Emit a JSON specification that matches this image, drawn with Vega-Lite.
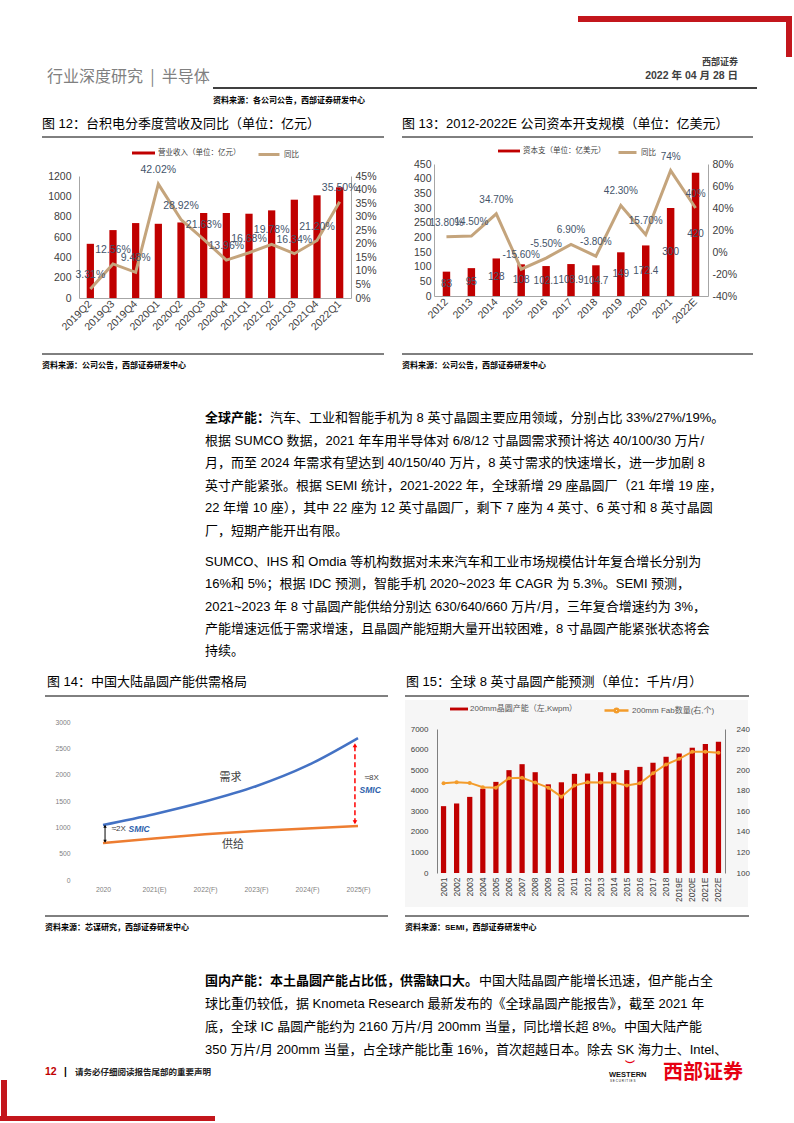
{
"$schema":"https://vega.github.io/schema/vega-lite/v6.json",
"width":794,"height":1123,"autosize":"none","padding":0,"background":"#ffffff",
"config":{"view":{"stroke":null},"font":"Liberation Sans, Noto Sans CJK SC"},
"data":{"values":[{}]},
"datasets":{
"c12":[
{"q":"2019Q2","rev":533,"yoy":0.0331},{"q":"2019Q3","rev":668,"yoy":0.1256},{"q":"2019Q4","rev":737,"yoy":0.0948},
{"q":"2020Q1","rev":730,"yoy":0.4202},{"q":"2020Q2","rev":743,"yoy":0.2892},{"q":"2020Q3","rev":836,"yoy":0.2163},
{"q":"2020Q4","rev":836,"yoy":0.1396},{"q":"2021Q1","rev":829,"yoy":0.1668},{"q":"2021Q2","rev":862,"yoy":0.1978},
{"q":"2021Q3","rev":967,"yoy":0.1634},{"q":"2021Q4","rev":1010,"yoy":0.2120},{"q":"2022Q1","rev":1089,"yoy":0.3550}],
"c13":[
{"yr":"2012","capex":83,"yoy":0.138,"lbl":"13.80%"},{"yr":"2013","capex":95,"yoy":0.145,"lbl":"14.50%"},
{"yr":"2014","capex":128,"yoy":0.347,"lbl":"34.70%"},{"yr":"2015","capex":108,"yoy":-0.156,"lbl":"-15.60%"},
{"yr":"2016","capex":102.1,"yoy":-0.055,"lbl":"-5.50%"},{"yr":"2017","capex":108.9,"yoy":0.069,"lbl":"6.90%"},
{"yr":"2018","capex":104.7,"yoy":-0.038,"lbl":"-3.80%"},{"yr":"2019","capex":149,"yoy":0.423,"lbl":"42.30%"},
{"yr":"2020","capex":172.4,"yoy":0.157,"lbl":"15.70%"},{"yr":"2021","capex":300,"yoy":0.74,"lbl":"74%"},
{"yr":"2022E","capex":420,"yoy":0.40,"lbl":"40%"}],
"c14":[
{"year":2020,"s":"需求","v":1045},{"year":2021,"s":"需求","v":1250},{"year":2022,"s":"需求","v":1490},
{"year":2023,"s":"需求","v":1780},{"year":2024,"s":"需求","v":2170},{"year":2025,"s":"需求","v":2695},
{"year":2020,"s":"供给","v":703},{"year":2021,"s":"供给","v":790},{"year":2022,"s":"供给","v":868},
{"year":2023,"s":"供给","v":930},{"year":2024,"s":"供给","v":980},{"year":2025,"s":"供给","v":1025}],
"c15":[
{"yr":"2001","cap":3250,"fab":187.3},{"yr":"2002","cap":3380,"fab":188.2},{"yr":"2003","cap":3700,"fab":187.6},
{"yr":"2004","cap":4100,"fab":183.4},{"yr":"2005","cap":4430,"fab":183.0},{"yr":"2006","cap":5000,"fab":192.2},
{"yr":"2007","cap":5290,"fab":192.5},{"yr":"2008","cap":4900,"fab":187.9},{"yr":"2009","cap":4310,"fab":183.0},
{"yr":"2010","cap":4410,"fab":174.2},{"yr":"2011","cap":4820,"fab":185.0},{"yr":"2012","cap":4835,"fab":188.2},
{"yr":"2013","cap":4900,"fab":187.9},{"yr":"2014","cap":4870,"fab":187.9},{"yr":"2015","cap":5000,"fab":185.0},
{"yr":"2016","cap":5160,"fab":187.3},{"yr":"2017","cap":5360,"fab":197.0},{"yr":"2018","cap":5650,"fab":205.5},
{"yr":"2019E","cap":5810,"fab":211.0},{"yr":"2020E","cap":6090,"fab":217.9},{"yr":"2021E","cap":6270,"fab":217.9},
{"yr":"2022E","cap":6380,"fab":216.9}],
"p1":[
{"i":0,"t":"汽车、工业和智能手机为 8 英寸晶圆主要应用领域，分别占比 33%/27%/19%。"},
{"i":1,"t":"根据 SUMCO 数据，2021 年车用半导体对 6/8/12 寸晶圆需求预计将达 40/100/30 万片/"},
{"i":2,"t":"月，而至 2024 年需求有望达到 40/150/40 万片，8 英寸需求的快速增长，进一步加剧 8"},
{"i":3,"t":"英寸产能紧张。根据 SEMI 统计，2021-2022 年，全球新增 29 座晶圆厂（21 年增 19 座，"},
{"i":4,"t":"22 年增 10 座），其中 22 座为 12 英寸晶圆厂，剩下 7 座为 4 英寸、6 英寸和 8 英寸晶圆"},
{"i":5,"t":"厂，短期产能开出有限。"}],
"p2":[
{"i":0,"t":"SUMCO、IHS 和 Omdia 等机构数据对未来汽车和工业市场规模估计年复合增长分别为"},
{"i":1,"t":"16%和 5%；根据 IDC 预测，智能手机 2020~2023 年 CAGR 为 5.3%。SEMI 预测，"},
{"i":2,"t":"2021~2023 年 8 寸晶圆产能供给分别达 630/640/660 万片/月，三年复合增速约为 3%，"},
{"i":3,"t":"产能增速远低于需求增速，且晶圆产能短期大量开出较困难，8 寸晶圆产能紧张状态将会"},
{"i":4,"t":"持续。"}],
"p3":[
{"i":0,"t":"中国大陆晶圆产能增长迅速，但产能占全"},
{"i":1,"t":"球比重仍较低，据 Knometa Research 最新发布的《全球晶圆产能报告》，截至 2021 年"},
{"i":2,"t":"底，全球 IC 晶圆产能约为 2160 万片/月 200mm 当量，同比增长超 8%。中国大陆产能"},
{"i":3,"t":"350 万片/月 200mm 当量，占全球产能比重 16%，首次超越日本。除去 SK 海力士、Intel、"}]
},
"resolve":{"scale":{"x":"independent","y":"independent","fill":"independent","stroke":"independent"}},
"layer":[
{"mark":{"type":"rect","color":"#f6f6f6"},"encoding":{"x":{"value":405},"x2":{"value":748},"y":{"value":700},"y2":{"value":907}}},
{"mark":{"type":"rect","color":"#C3161C"},"encoding":{"x":{"value":578},"x2":{"value":792},"y":{"value":16},"y2":{"value":22}}},
{"mark":{"type":"rect","color":"#C3161C"},"encoding":{"x":{"value":786},"x2":{"value":792},"y":{"value":16},"y2":{"value":57}}},
{"mark":{"type":"rect","color":"#C3161C"},"encoding":{"x":{"value":1},"x2":{"value":7},"y":{"value":1080},"y2":{"value":1121}}},
{"mark":{"type":"rect","color":"#C3161C"},"encoding":{"x":{"value":0},"x2":{"value":215},"y":{"value":1116},"y2":{"value":1121}}},
{"mark":{"type":"text","text":"行业深度研究\u00a0\u00a0|\u00a0\u00a0半导体","align":"left","baseline":"middle","fontSize":16,"color":"#808080","font":"Noto Sans CJK SC"},"encoding":{"x":{"value":47},"y":{"value":77}}},
{"mark":{"type":"text","text":"西部证券","align":"right","baseline":"middle","fontSize":9,"fontWeight":"bold","color":"#404040"},"encoding":{"x":{"value":738},"y":{"value":62}}},
{"mark":{"type":"text","text":"2022 年 04 月 28 日","align":"right","baseline":"middle","fontSize":10.5,"fontWeight":"bold","color":"#404040"},"encoding":{"x":{"value":738},"y":{"value":76}}},
{"mark":{"type":"rule","color":"#000000","strokeWidth":1.5},"encoding":{"x":{"value":213},"x2":{"value":757},"y":{"value":88}}},
{"mark":{"type":"text","text":"资料来源：各公司公告，西部证券研发中心","align":"left","baseline":"middle","fontSize":8,"fontWeight":"bold","color":"#000000"},"encoding":{"x":{"value":213},"y":{"value":101}}},
{"mark":{"type":"text","text":"图 12：台积电分季度营收及同比（单位：亿元）","align":"left","baseline":"middle","fontSize":13,"color":"#000000"},"encoding":{"x":{"value":42},"y":{"value":124}}},
{"mark":{"type":"text","text":"图 13：2012-2022E 公司资本开支规模（单位：亿美元）","align":"left","baseline":"middle","fontSize":13,"color":"#000000"},"encoding":{"x":{"value":402},"y":{"value":124}}},
{"mark":{"type":"rule","color":"#000000","strokeWidth":1},"encoding":{"x":{"value":42},"x2":{"value":384},"y":{"value":137}}},
{"mark":{"type":"rule","color":"#000000","strokeWidth":1},"encoding":{"x":{"value":402},"x2":{"value":753},"y":{"value":137}}},
{"mark":{"type":"rule","color":"#000000","strokeWidth":1},"encoding":{"x":{"value":42},"x2":{"value":384},"y":{"value":354}}},
{"mark":{"type":"rule","color":"#000000","strokeWidth":1},"encoding":{"x":{"value":402},"x2":{"value":753},"y":{"value":354}}},
{"mark":{"type":"text","text":"资料来源：公司公告，西部证券研发中心","align":"left","baseline":"middle","fontSize":8,"fontWeight":"bold","color":"#000000"},"encoding":{"x":{"value":42},"y":{"value":366}}},
{"mark":{"type":"text","text":"资料来源：公司公告，西部证券研发中心","align":"left","baseline":"middle","fontSize":8,"fontWeight":"bold","color":"#000000"},"encoding":{"x":{"value":402},"y":{"value":366}}},
{"mark":{"type":"text","text":"图 14：中国大陆晶圆产能供需格局","align":"left","baseline":"middle","fontSize":13,"color":"#000000"},"encoding":{"x":{"value":47},"y":{"value":682}}},
{"mark":{"type":"text","text":"图 15：全球 8 英寸晶圆产能预测（单位：千片/月）","align":"left","baseline":"middle","fontSize":13,"color":"#000000"},"encoding":{"x":{"value":406},"y":{"value":682}}},
{"mark":{"type":"rule","color":"#000000","strokeWidth":1},"encoding":{"x":{"value":45},"x2":{"value":388},"y":{"value":696}}},
{"mark":{"type":"rule","color":"#000000","strokeWidth":1},"encoding":{"x":{"value":405},"x2":{"value":749},"y":{"value":696}}},
{"mark":{"type":"rule","color":"#000000","strokeWidth":1},"encoding":{"x":{"value":45},"x2":{"value":388},"y":{"value":916}}},
{"mark":{"type":"rule","color":"#000000","strokeWidth":1},"encoding":{"x":{"value":405},"x2":{"value":749},"y":{"value":916}}},
{"mark":{"type":"text","text":"资料来源：芯谋研究，西部证券研发中心","align":"left","baseline":"middle","fontSize":8,"fontWeight":"bold","color":"#000000"},"encoding":{"x":{"value":45},"y":{"value":928}}},
{"mark":{"type":"text","text":"资料来源：SEMI，西部证券研发中心","align":"left","baseline":"middle","fontSize":8,"fontWeight":"bold","color":"#000000"},"encoding":{"x":{"value":405},"y":{"value":928}}},
{"mark":{"type":"text","text":"12","align":"left","baseline":"middle","fontSize":10.5,"fontWeight":"bold","color":"#C00000"},"encoding":{"x":{"value":45},"y":{"value":1072}}},
{"mark":{"type":"text","text":"|","align":"left","baseline":"middle","fontSize":10,"fontWeight":"bold","color":"#000000"},"encoding":{"x":{"value":64},"y":{"value":1072}}},
{"mark":{"type":"text","text":"请务必仔细阅读报告尾部的重要声明","align":"left","baseline":"middle","fontSize":8.5,"fontWeight":"bold","color":"#222222"},"encoding":{"x":{"value":75},"y":{"value":1072}}},
{"mark":{"type":"text","text":"西部证券","align":"left","baseline":"middle","fontSize":20,"fontWeight":"bold","color":"#E60012","font":"Noto Sans CJK SC"},"encoding":{"x":{"value":663},"y":{"value":1073}}},
{"mark":{"type":"text","text":"WESTERN","align":"left","baseline":"middle","fontSize":7.5,"fontWeight":"bold","color":"#111111"},"encoding":{"x":{"value":609},"y":{"value":1075}}},
{"mark":{"type":"text","text":"S E C U R I T I E S","align":"left","baseline":"middle","fontSize":3,"color":"#111111"},"encoding":{"x":{"value":610},"y":{"value":1081}}},
{"mark":{"type":"text","text":"︶","align":"center","baseline":"middle","fontSize":10,"fontWeight":"bold","color":"#E60012"},"encoding":{"x":{"value":630},"y":{"value":1066}}},

{"data":{"name":"c12"},
 "encoding":{"x":{"field":"q","type":"nominal","sort":null,"scale":{"range":[79,351],"paddingInner":0.68,"paddingOuter":0.34},
   "axis":{"orient":"bottom","offset":-825,"title":null,"labelAngle":-45,"labelAlign":"right","labelBaseline":"middle","labelFontSize":10.5,"labelColor":"#404040","domainColor":"#a6a6a6","ticks":false,"labelPadding":4,"grid":false,"labelOverlap":false}}},
 "layer":[
  {"mark":{"type":"bar"},"encoding":{
    "y":{"field":"rev","type":"quantitative","scale":{"domain":[0,1200],"range":[298,176]},"axis":{"orient":"left","offset":-79,"title":null,"values":[0,200,400,600,800,1000,1200],"format":"d","labelFontSize":10.5,"labelColor":"#404040","domainColor":"#a6a6a6","ticks":false,"labelPadding":8,"grid":false}},
    "fill":{"datum":"营业收入（单位：亿元）","type":"nominal","scale":{"range":["#C00000"]},"legend":{"orient":"none","legendX":132,"legendY":141.5,"title":null,"symbolType":"M-1,-0.13H1V0.13H-1Z","symbolSize":529,"symbolStrokeWidth":0,"labelFontSize":7.5,"labelColor":"#404040","labelOffset":3,"padding":0}}}},
  {"mark":{"type":"line","strokeWidth":3},"encoding":{
    "y":{"field":"yoy","type":"quantitative","scale":{"domain":[0,0.45],"range":[298,176]},"axis":{"orient":"right","offset":-443,"title":null,"values":[0,0.05,0.1,0.15,0.2,0.25,0.3,0.35,0.4,0.45],"format":".0%","labelFontSize":10.5,"labelColor":"#404040","domainColor":"#a6a6a6","ticks":false,"labelPadding":4,"grid":false}},
    "stroke":{"datum":"同比","type":"nominal","scale":{"range":["#C4A47C"]},"legend":{"orient":"none","legendX":257,"legendY":142.5,"title":null,"symbolType":"stroke","symbolSize":441,"symbolStrokeWidth":3,"labelFontSize":7.5,"labelColor":"#404040","labelOffset":3,"padding":0}}}},
  {"mark":{"type":"text","dy":-14,"fontSize":10.5,"color":"#44546A"},"encoding":{
    "y":{"field":"yoy","type":"quantitative","scale":{"domain":[0,0.45],"range":[298,176]},"axis":null},
    "text":{"field":"yoy","type":"quantitative","format":".2%"}}}
 ],
 "resolve":{"scale":{"y":"independent"}}},

{"data":{"name":"c13"},
 "encoding":{"x":{"field":"yr","type":"nominal","sort":null,"scale":{"range":[434,708],"paddingInner":0.7,"paddingOuter":0.35},
   "axis":{"orient":"bottom","offset":-827,"title":null,"labelAngle":-45,"labelAlign":"right","labelBaseline":"middle","labelFontSize":10.5,"labelColor":"#404040","domainColor":"#a6a6a6","ticks":false,"labelPadding":4,"grid":false,"labelOverlap":false}}},
 "layer":[
  {"mark":{"type":"bar"},"encoding":{
    "y":{"field":"capex","type":"quantitative","scale":{"domain":[0,450],"range":[296,164]},"axis":{"orient":"left","offset":-434,"title":null,"values":[0,50,100,150,200,250,300,350,400,450],"labelFontSize":10.5,"labelColor":"#404040","domainColor":"#a6a6a6","ticks":false,"labelPadding":3,"grid":false}},
    "fill":{"datum":"资本支（单位：亿美元）","type":"nominal","scale":{"range":["#C00000"]},"legend":{"orient":"none","legendX":498,"legendY":140,"title":null,"symbolType":"M-1,-0.13H1V0.13H-1Z","symbolSize":484,"symbolStrokeWidth":0,"labelFontSize":7.5,"labelColor":"#404040","labelOffset":3,"padding":0}}}},
  {"mark":{"type":"text","baseline":"middle","fontSize":10,"color":"#44546A"},"encoding":{
    "y":{"field":"capex","type":"quantitative","scale":{"domain":[0,900],"range":[296,164]},"axis":null},
    "text":{"field":"capex","type":"nominal"}}},
  {"mark":{"type":"line","strokeWidth":3},"encoding":{
    "y":{"field":"yoy","type":"quantitative","scale":{"domain":[-0.4,0.8],"range":[296,164]},"axis":{"orient":"right","offset":-86,"title":null,"values":[-0.4,-0.2,0,0.2,0.4,0.6,0.8],"labelExpr":"(datum.value < 0 ? '-' : '') + abs(round(datum.value*100)) + '%'","labelFontSize":10.5,"labelColor":"#404040","domainColor":"#a6a6a6","ticks":false,"labelPadding":4,"grid":false}},
    "stroke":{"datum":"同比","type":"nominal","scale":{"range":["#C4A47C"]},"legend":{"orient":"none","legendX":617,"legendY":142,"title":null,"symbolType":"stroke","symbolSize":324,"symbolStrokeWidth":3,"labelFontSize":7.5,"labelColor":"#404040","labelOffset":3,"padding":0}}}},
  {"mark":{"type":"text","dy":-14,"fontSize":10,"color":"#44546A"},"encoding":{
    "y":{"field":"yoy","type":"quantitative","scale":{"domain":[-0.4,0.8],"range":[296,164]},"axis":null},
    "text":{"field":"lbl","type":"nominal"}}}
 ],
 "resolve":{"scale":{"y":"independent"}}},

{"layer":[
  {"data":{"name":"c14"},"mark":{"type":"line","interpolate":"monotone","strokeWidth":2.5},"encoding":{
    "x":{"field":"year","type":"quantitative","scale":{"domain":[2020,2025],"range":[103,358]},"axis":{"orient":"bottom","offset":-243,"title":null,"values":[2020,2021,2022,2023,2024,2025],"labelExpr":"datum.value == 2020 ? '2020' : datum.value == 2021 ? '2021(E)' : datum.value + '(F)'","labelFontSize":6.8,"labelColor":"#7f7f7f","domain":false,"ticks":false,"labelPadding":6,"labelFlush":false,"grid":false}},
    "y":{"field":"v","type":"quantitative","scale":{"domain":[0,3000],"range":[880,722]},"axis":{"orient":"left","offset":-80,"title":null,"values":[0,500,1000,1500,2000,2500,3000],"format":"d","labelFontSize":6.8,"labelColor":"#7f7f7f","domain":false,"ticks":false,"labelPadding":10,"grid":false}},
    "stroke":{"field":"s","type":"nominal","scale":{"domain":["需求","供给"],"range":["#4472C4","#ED7D31"]},"legend":null}}},
  {"mark":{"type":"rule","color":"#000000","strokeWidth":1},"encoding":{
    "x":{"datum":2020.04,"type":"quantitative","scale":{"domain":[2020,2025],"range":[103,358]},"axis":null},
    "y":{"datum":1030,"type":"quantitative","scale":{"domain":[0,3000],"range":[880,722]},"axis":null},
    "y2":{"datum":725}}},
  {"mark":{"type":"point","shape":"triangle-up","filled":true,"size":12,"color":"#000000","opacity":1},"encoding":{
    "x":{"datum":2020.04,"type":"quantitative","scale":{"domain":[2020,2025],"range":[103,358]},"axis":null},
    "y":{"datum":1020,"type":"quantitative","scale":{"domain":[0,3000],"range":[880,722]},"axis":null}}},
  {"mark":{"type":"point","shape":"triangle-down","filled":true,"size":12,"color":"#000000","opacity":1},"encoding":{
    "x":{"datum":2020.04,"type":"quantitative","scale":{"domain":[2020,2025],"range":[103,358]},"axis":null},
    "y":{"datum":735,"type":"quantitative","scale":{"domain":[0,3000],"range":[880,722]},"axis":null}}},
  {"mark":{"type":"rule","color":"#FF0000","strokeWidth":1.5,"strokeDash":[5,3]},"encoding":{
    "x":{"datum":2024.94,"type":"quantitative","scale":{"domain":[2020,2025],"range":[103,358]},"axis":null},
    "y":{"datum":2540,"type":"quantitative","scale":{"domain":[0,3000],"range":[880,722]},"axis":null},
    "y2":{"datum":1110}}},
  {"mark":{"type":"point","shape":"triangle-up","filled":true,"size":22,"color":"#FF0000","opacity":1},"encoding":{
    "x":{"datum":2024.94,"type":"quantitative","scale":{"domain":[2020,2025],"range":[103,358]},"axis":null},
    "y":{"datum":2560,"type":"quantitative","scale":{"domain":[0,3000],"range":[880,722]},"axis":null}}},
  {"mark":{"type":"point","shape":"triangle-down","filled":true,"size":22,"color":"#FF0000","opacity":1},"encoding":{
    "x":{"datum":2024.94,"type":"quantitative","scale":{"domain":[2020,2025],"range":[103,358]},"axis":null},
    "y":{"datum":1095,"type":"quantitative","scale":{"domain":[0,3000],"range":[880,722]},"axis":null}}},
  {"mark":{"type":"text","text":"需求","fontSize":11,"color":"#404040","baseline":"middle"},"encoding":{
    "x":{"datum":2022.5,"type":"quantitative","scale":{"domain":[2020,2025],"range":[103,358]},"axis":null},
    "y":{"datum":1937,"type":"quantitative","scale":{"domain":[0,3000],"range":[880,722]},"axis":null}}},
  {"mark":{"type":"text","text":"供给","fontSize":11,"color":"#404040","baseline":"middle"},"encoding":{
    "x":{"datum":2022.55,"type":"quantitative","scale":{"domain":[2020,2025],"range":[103,358]},"axis":null},
    "y":{"datum":660,"type":"quantitative","scale":{"domain":[0,3000],"range":[880,722]},"axis":null}}},
  {"mark":{"type":"text","text":"≈2X","fontSize":8,"color":"#404040","align":"left","baseline":"middle"},"encoding":{
    "x":{"datum":2020.17,"type":"quantitative","scale":{"domain":[2020,2025],"range":[103,358]},"axis":null},
    "y":{"datum":968,"type":"quantitative","scale":{"domain":[0,3000],"range":[880,722]},"axis":null}}},
  {"mark":{"type":"text","text":"SMIC","fontSize":8.5,"fontWeight":"bold","fontStyle":"italic","color":"#2E5FAC","align":"left","baseline":"middle"},"encoding":{
    "x":{"datum":2020.5,"type":"quantitative","scale":{"domain":[2020,2025],"range":[103,358]},"axis":null},
    "y":{"datum":968,"type":"quantitative","scale":{"domain":[0,3000],"range":[880,722]},"axis":null}}},
  {"mark":{"type":"text","text":"≈8X","fontSize":8,"color":"#404040","align":"left","baseline":"middle"},"encoding":{
    "x":{"datum":2025.13,"type":"quantitative","scale":{"domain":[2020,2025],"range":[103,358]},"axis":null},
    "y":{"datum":1937,"type":"quantitative","scale":{"domain":[0,3000],"range":[880,722]},"axis":null}}},
  {"mark":{"type":"text","text":"SMIC","fontSize":8.5,"fontWeight":"bold","fontStyle":"italic","color":"#2E5FAC","align":"left","baseline":"middle"},"encoding":{
    "x":{"datum":2025.03,"type":"quantitative","scale":{"domain":[2020,2025],"range":[103,358]},"axis":null},
    "y":{"datum":1709,"type":"quantitative","scale":{"domain":[0,3000],"range":[880,722]},"axis":null}}}
 ],
 "resolve":{"scale":{"x":"independent","y":"independent"}}},

{"data":{"name":"c15"},
 "encoding":{"x":{"field":"yr","type":"nominal","sort":null,"scale":{"range":[437,725],"paddingInner":0.6,"paddingOuter":0.3},
   "axis":{"orient":"bottom","offset":-250,"title":null,"labelAngle":-90,"labelAlign":"right","labelBaseline":"middle","labelFontSize":8.5,"labelColor":"#404040","domain":false,"ticks":false,"labelPadding":4,"grid":false,"labelOverlap":false,"zindex":1}}},
 "layer":[
  {"mark":{"type":"bar"},"encoding":{
    "y":{"field":"cap","type":"quantitative","scale":{"domain":[0,7000],"range":[873,729]},"axis":{"orient":"left","offset":-437,"title":null,"values":[0,1000,2000,3000,4000,5000,6000,7000],"format":"d","labelFontSize":8,"labelColor":"#404040","domainColor":"#7f7f7f","ticks":false,"labelPadding":9,"grid":false,"zindex":1}},
    "fill":{"datum":"200mm晶圆产能（左,Kwpm）","type":"nominal","scale":{"range":["#C00000"]},"legend":{"orient":"none","legendX":450,"legendY":700,"title":null,"symbolType":"M-1,-0.16H1V0.16H-1Z","symbolSize":324,"symbolStrokeWidth":0,"labelFontSize":8,"labelColor":"#595959","labelOffset":2,"padding":0}}}},
  {"mark":{"type":"line","strokeWidth":2},"encoding":{
    "y":{"field":"fab","type":"quantitative","scale":{"domain":[100,240],"range":[873,729]},"axis":{"orient":"right","offset":-69,"title":null,"values":[100,120,140,160,180,200,220,240],"labelFontSize":8,"labelColor":"#404040","domainColor":"#7f7f7f","ticks":false,"labelPadding":11,"grid":false,"zindex":1}},
    "stroke":{"datum":"200mm Fab数量(右,个)","type":"nominal","scale":{"range":["#F39C2B"]},"legend":{"orient":"none","legendX":603,"legendY":697,"title":null,"symbolType":"M-1,0H-0.2M0.2,0H1M-0.15,0A0.15,0.15 0 1,1 0.15,0A0.15,0.15 0 1,1 -0.15,0","symbolSize":576,"symbolStrokeWidth":2.5,"labelFontSize":8,"labelColor":"#595959","labelOffset":2,"padding":0}}}},
  {"mark":{"type":"point","filled":true,"size":16,"color":"#F39C2B","opacity":1},"encoding":{
    "y":{"field":"fab","type":"quantitative","scale":{"domain":[100,240],"range":[873,729]},"axis":null}}}
 ],
 "resolve":{"scale":{"y":"independent"}}},

{"data":{"name":"p1"},"layer":[
  {"transform":[{"filter":"datum.i > 0"}],"mark":{"type":"text","align":"left","baseline":"middle","fontSize":13,"color":"#000000"},"encoding":{
    "x":{"value":205},"y":{"field":"i","type":"quantitative","scale":{"domain":[0,5],"range":[418,530.5]},"axis":null},"text":{"field":"t"}}},
  {"transform":[{"filter":"datum.i == 0"}],"mark":{"type":"text","align":"left","baseline":"middle","fontSize":13,"color":"#000000"},"encoding":{
    "x":{"value":270},"y":{"field":"i","type":"quantitative","scale":{"domain":[0,5],"range":[418,530.5]},"axis":null},"text":{"field":"t"}}},
  {"transform":[{"filter":"datum.i == 0"}],"mark":{"type":"text","text":"全球产能：","align":"left","baseline":"middle","fontSize":13,"fontWeight":"bold","color":"#000000"},"encoding":{
    "x":{"value":205},"y":{"field":"i","type":"quantitative","scale":{"domain":[0,5],"range":[418,530.5]},"axis":null}}}
 ]},
{"data":{"name":"p2"},"mark":{"type":"text","align":"left","baseline":"middle","fontSize":13,"color":"#000000"},"encoding":{
    "x":{"value":205},"y":{"field":"i","type":"quantitative","scale":{"domain":[0,4],"range":[562,651]},"axis":null},"text":{"field":"t"}}},
{"data":{"name":"p3"},"layer":[
  {"transform":[{"filter":"datum.i > 0"}],"mark":{"type":"text","align":"left","baseline":"middle","fontSize":13,"color":"#000000"},"encoding":{
    "x":{"value":205},"y":{"field":"i","type":"quantitative","scale":{"domain":[0,3],"range":[981,1050]},"axis":null},"text":{"field":"t"}}},
  {"transform":[{"filter":"datum.i == 0"}],"mark":{"type":"text","align":"left","baseline":"middle","fontSize":13,"color":"#000000"},"encoding":{
    "x":{"value":479},"y":{"field":"i","type":"quantitative","scale":{"domain":[0,3],"range":[981,1050]},"axis":null},"text":{"field":"t"}}},
  {"transform":[{"filter":"datum.i == 0"}],"mark":{"type":"text","text":"国内产能：本土晶圆产能占比低，供需缺口大。","align":"left","baseline":"middle","fontSize":13,"fontWeight":"bold","color":"#000000"},"encoding":{
    "x":{"value":205},"y":{"field":"i","type":"quantitative","scale":{"domain":[0,3],"range":[981,1050]},"axis":null}}}
 ]}
]
}
